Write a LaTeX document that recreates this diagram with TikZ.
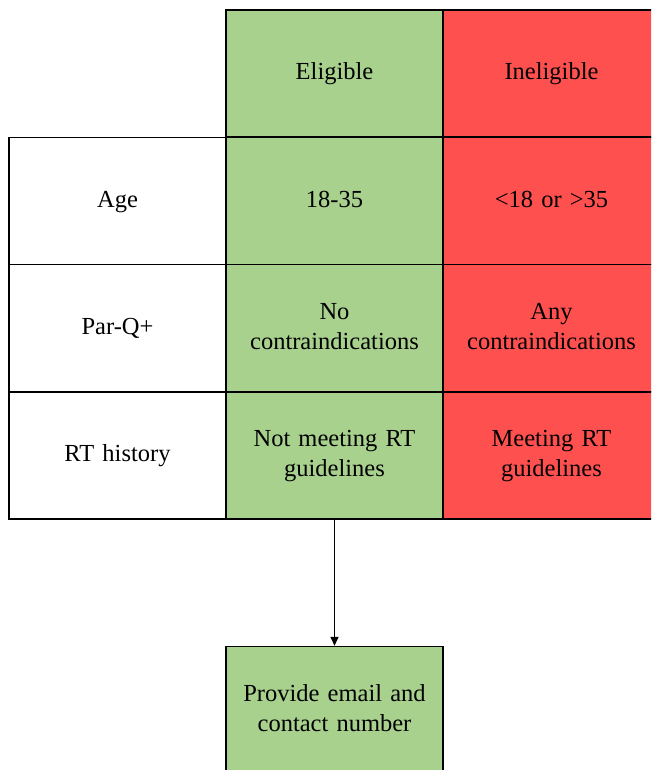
\documentclass[tikz,border=0pt]{standalone}
\usepackage{fontspec}
\setmainfont{Liberation Serif}
\usetikzlibrary{arrows.meta}
\definecolor{okgreen}{HTML}{A9D18E}
\definecolor{nogored}{HTML}{FF5050}
\begin{document}
\begin{tikzpicture}[x=1pt,y=-1pt,
  cell/.style={draw=black, line width=1.4pt, minimum width=217pt, minimum height=127pt,
    inner sep=0pt, align=center, text width=200pt,
    font=\fontsize{24.5}{30}\selectfont,
    execute at begin node=\strut, execute at end node=\strut},
  plain/.style={cell, fill=white},
  yes/.style={cell, fill=okgreen},
  no/.style={cell, fill=nogored},
  link/.style={draw=black, line width=1.4pt, -{Triangle[length=9pt,width=8pt]}}]
\useasboundingbox (0,0) rectangle (651,770);
\clip (0,0) rectangle (651,770);
% header row
\node[yes] (hElig) at (334.5,73.5) {Eligible};
\node[no]  (hInel) at (551.5,73.5) {Ineligible};
% criteria rows
\node[plain] (age)   at (117.5,201) {Age};
\node[yes]   (ageE)  at (334.5,201) {18-35};
\node[no]    (ageI)  at (551.5,201) {<18 or >35};
\node[plain] (parq)  at (117.5,328) {Par-Q+};
\node[yes]   (parqE) at (334.5,328) {No\\contraindications};
\node[no]    (parqI) at (551.5,328) {Any\\contraindications};
\node[plain] (rt)    at (117.5,455.5) {RT history};
\node[yes]   (rtE)   at (334.5,455.5) {Not meeting RT\\guidelines};
\node[no]    (rtI)   at (551.5,455.5) {Meeting RT\\guidelines};
% next step
\node[yes] (contact) at (334.5,710) {Provide email and\\contact number};
\draw[link] (rtE.south) -- (contact.north);
\end{tikzpicture}
\end{document}
